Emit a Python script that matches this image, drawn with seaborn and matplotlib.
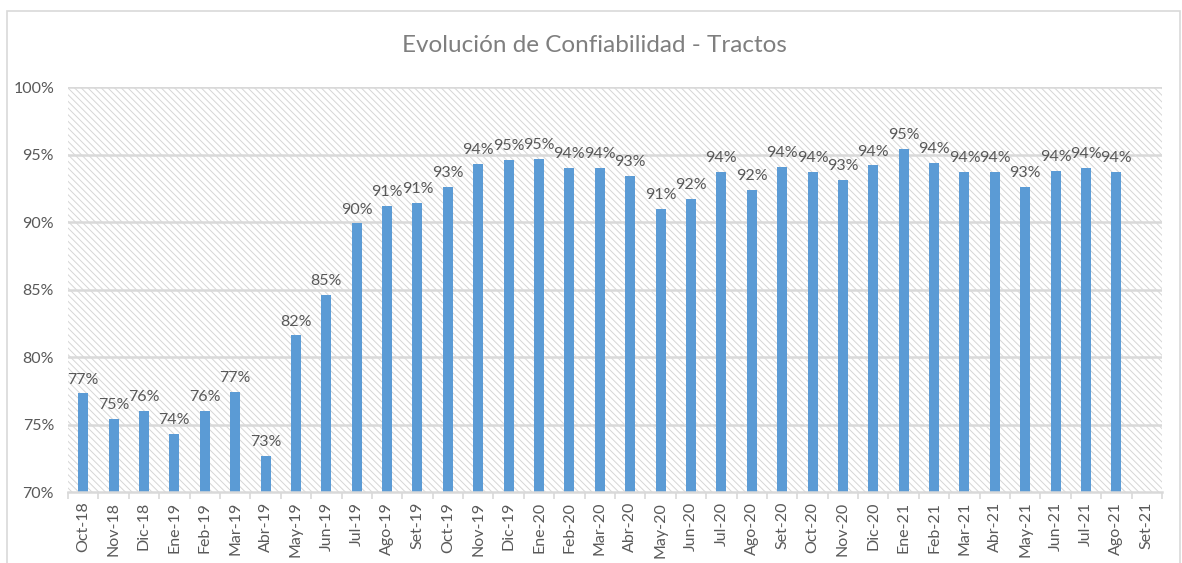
import numpy as np
import pandas as pd
import matplotlib
matplotlib.use("Agg")
import matplotlib.pyplot as plt
import seaborn as sns
from matplotlib.patches import Rectangle
from matplotlib.ticker import FixedLocator

categories = ["Oct-18", "Nov-18", "Dic-18", "Ene-19", "Feb-19", "Mar-19", "Abr-19",
              "May-19", "Jun-19", "Jul-19", "Ago-19", "Set-19", "Oct-19", "Nov-19",
              "Dic-19", "Ene-20", "Feb-20", "Mar-20", "Abr-20", "May-20", "Jun-20",
              "Jul-20", "Ago-20", "Set-20", "Oct-20", "Nov-20", "Dic-20", "Ene-21",
              "Feb-21", "Mar-21", "Abr-21", "May-21", "Jun-21", "Jul-21", "Ago-21",
              "Set-21"]
values = [77.3, 75.4, 76.0, 74.3, 76.0, 77.4, 72.7,
          81.6, 84.6, 89.9, 91.2, 91.4, 92.6, 94.3,
          94.6, 94.7, 94.0, 94.0, 93.4, 91.0, 91.7,
          93.7, 92.4, 94.1, 93.7, 93.1, 94.2, 95.4,
          94.4, 93.7, 93.7, 92.6, 93.8, 94.0, 93.7,
          np.nan]
yticks = [70, 75, 80, 85, 90, 95, 100]

df = pd.DataFrame({"mes": categories, "conf": values})

sns.set_theme(style="white")
plt.rcParams['font.family'] = ['Lato', 'DejaVu Sans']
plt.rcParams['hatch.linewidth'] = 0.7
plt.rcParams['hatch.color'] = "#d6d6d6"

fig = plt.figure(figsize=(11.82, 5.63), dpi=100)
ax = fig.add_axes([68/1182, 1 - 492/563, (1162 - 68)/1182, (492 - 87)/563])

# outer border of the chart area
fig.patches.append(Rectangle((7/1182, -0.05), (1180 - 7)/1182, 1.05 - 11/563,
                             transform=fig.transFigure, fill=False,
                             edgecolor="#d9d9d9", linewidth=1.2, zorder=0))

# hatched plot background
ax.add_patch(Rectangle((0, 0), 1, 1, transform=ax.transAxes, facecolor="white",
                       edgecolor="#d6d6d6", hatch="\\\\\\\\\\",
                       linewidth=0, zorder=0))

sns.barplot(data=df, x="mes", y="conf", order=categories, color="#5b9bd5",
            width=0.33, saturation=1, linewidth=0, ax=ax, zorder=3)

ax.set_ylim(70, 100)
ax.set_xlim(-0.5, len(categories) - 0.5)
ax.set_yticks(yticks)
ax.set_yticklabels([f"{t}%" for t in yticks])
for t in yticks[1:]:
    ax.axhline(t, color="#d9d9d9", linewidth=1.8, zorder=1)

for i, v in enumerate(values):
    if not np.isnan(v):
        ax.text(i, v + 0.5, f"{v:.0f}%", ha="center", va="bottom",
                fontsize=11.5, color="#595959", zorder=4)

ax.set_xlabel("")
ax.set_ylabel("")
ax.tick_params(axis="x", which="major", length=0, pad=7, labelsize=11.5,
               labelcolor="#595959", rotation=90)
ax.xaxis.set_minor_locator(FixedLocator(np.arange(-0.5, len(categories), 1.0)))
ax.tick_params(axis="x", which="minor", length=5, color="#d9d9d9", width=1.2, bottom=True)
ax.tick_params(axis="y", length=0, pad=10, labelsize=11.5, labelcolor="#595959")

for s in ["top", "right", "left"]:
    ax.spines[s].set_visible(False)
ax.spines["bottom"].set_color("#d9d9d9")
ax.spines["bottom"].set_linewidth(1.8)
ax.spines["bottom"].set_zorder(5)

fig.text(594/1182, 1 - 45/563, "Evolución de Confiabilidad - Tractos",
         ha="center", va="center", fontsize=17.5, color="#7f7f7f")

fig.savefig("out.png", dpi=100)
